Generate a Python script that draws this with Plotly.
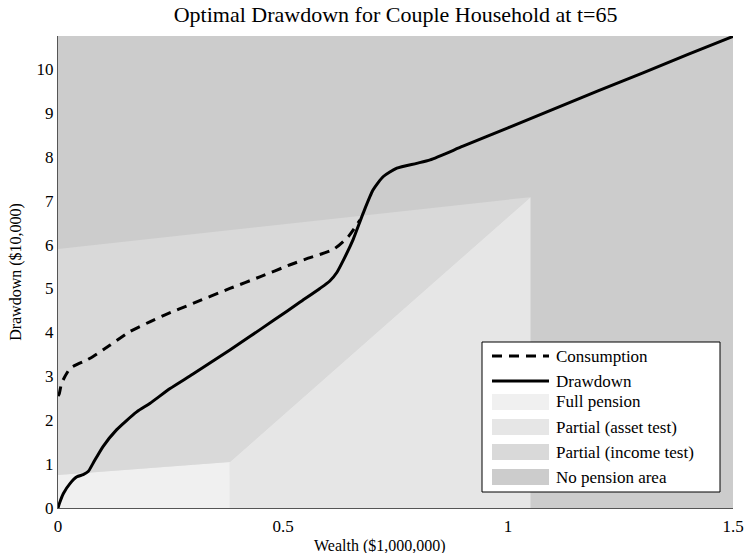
import plotly.graph_objects as go

# Optimal drawdown path (wealth in $1,000,000, drawdown in $10,000)
wealth_d = [0, 0.003, 0.012, 0.027, 0.042, 0.056, 0.067, 0.078, 0.10, 0.13, 0.175, 0.204,
            0.249, 0.30, 0.382, 0.427, 0.48, 0.538, 0.582, 0.604, 0.62, 0.634, 0.656, 0.678,
            0.70, 0.723, 0.753, 0.797, 0.827, 0.9, 1.0, 1.1, 1.2, 1.3, 1.4, 1.5]
drawdown = [0, 0.10, 0.33, 0.56, 0.71, 0.76, 0.83, 1.02, 1.40, 1.78, 2.19, 2.38,
            2.72, 3.05, 3.60, 3.91, 4.28, 4.69, 5.00, 5.17, 5.37, 5.64, 6.12, 6.71,
            7.24, 7.55, 7.74, 7.85, 7.93, 8.24, 8.66, 9.08, 9.50, 9.91, 10.33, 10.74]

# Optimal consumption path (joins drawdown once the pension is exhausted)
wealth_c = [0, 0.003, 0.008, 0.027, 0.064, 0.078, 0.116, 0.16, 0.204, 0.238, 0.30,
            0.382, 0.45, 0.516, 0.556, 0.612, 0.645, 0.671]
consumption = [2.55, 2.61, 2.84, 3.18, 3.37, 3.45, 3.71, 4.02, 4.24, 4.40, 4.66,
               5.00, 5.27, 5.54, 5.69, 5.89, 6.18, 6.56]

# Pension regime boundaries
full_pension_w = [0, 0, 0.382, 0.382]
full_pension_d = [0, 0.75, 1.05, 0]
asset_test_w = [0.382, 0.382, 1.05, 1.05]
asset_test_d = [0, 1.05, 7.08, 0]
income_test_w = [0, 0, 1.05, 0.382]
income_test_d = [0.75, 5.9, 7.08, 1.05]
no_pension_w = [0, 1.5, 1.5, 0]
no_pension_d = [0, 0, 10.75, 10.75]

x_ticks = [0, 0.5, 1, 1.5]
x_tick_labels = ["0", "0.5", "1", "1.5"]
y_ticks = list(range(0, 11))

SERIF = "Liberation Serif, Times New Roman, serif"
W, H = 745, 553
M_L, M_R, M_T, M_B = 58, 12, 36, 45
PW, PH = W - M_L - M_R, H - M_T - M_B

DASH = "10px,7px"

fig = go.Figure()

regions = [
    ("No pension area", no_pension_w, no_pension_d, "#cccccc"),
    ("Partial (income test)", income_test_w, income_test_d, "#d9d9d9"),
    ("Partial (asset test)", asset_test_w, asset_test_d, "#e6e6e6"),
    ("Full pension", full_pension_w, full_pension_d, "#f0f0f0"),
]
for name, xs, ys, col in regions:
    fig.add_trace(go.Scatter(
        x=xs, y=ys, mode="lines", fill="toself", fillcolor=col,
        line=dict(width=0, color=col), name=name, showlegend=False, hoverinfo="skip",
    ))

fig.add_trace(go.Scatter(
    x=wealth_c, y=consumption, mode="lines", name="Consumption", showlegend=False,
    line=dict(color="black", width=3, dash=DASH, shape="spline", smoothing=0.6),
))
fig.add_trace(go.Scatter(
    x=wealth_d, y=drawdown, mode="lines", name="Drawdown", showlegend=False,
    line=dict(color="black", width=3, shape="spline", smoothing=0.6),
))


# Legend box (pixel layout converted to paper coordinates)
def px(x):
    return (x - M_L) / PW


def py(y):
    return (H - M_B - y) / PH


shapes = [dict(type="rect", xref="paper", yref="paper", layer="above",
               x0=px(482), x1=px(720), y0=py(492), y1=py(342),
               fillcolor="white", line=dict(color="black", width=1))]
annotations = []

legend_rows = [
    ("Consumption", "line", "black", DASH),
    ("Drawdown", "line", "black", "solid"),
    ("Full pension", "patch", "#f0f0f0", None),
    ("Partial (asset test)", "patch", "#e6e6e6", None),
    ("Partial (income test)", "patch", "#d9d9d9", None),
    ("No pension area", "patch", "#cccccc", None),
]
row_y = [356, 381, 402, 427, 452, 477]
for (label, kind, col, dash), yc in zip(legend_rows, row_y):
    if kind == "line":
        shapes.append(dict(type="line", xref="paper", yref="paper", layer="above",
                           x0=px(492), x1=px(549), y0=py(yc), y1=py(yc),
                           line=dict(color=col, width=3, dash=dash)))
    else:
        shapes.append(dict(type="rect", xref="paper", yref="paper", layer="above",
                           x0=px(492), x1=px(549), y0=py(yc + 8), y1=py(yc - 8),
                           fillcolor=col, line=dict(width=0)))
    annotations.append(dict(text=label, xref="paper", yref="paper",
                            x=px(554), y=py(yc), xanchor="left", yanchor="middle",
                            showarrow=False, font=dict(family=SERIF, size=17)))

annotations.append(dict(text="Wealth ($1,000,000)", xref="paper", yref="paper",
                        x=px(380), y=py(546), xanchor="center", yanchor="middle",
                        showarrow=False, font=dict(family=SERIF, size=16)))

fig.update_layout(
    width=W, height=H,
    margin=dict(l=M_L, r=M_R, t=M_T, b=M_B, autoexpand=False),
    paper_bgcolor="white", plot_bgcolor="#cccccc",
    font=dict(family=SERIF, size=16, color="black"),
    title=dict(text="Optimal Drawdown for Couple Household at t=65",
               x=0.531, xanchor="center", y=1 - 14 / H, yanchor="middle",
               font=dict(family=SERIF, size=22)),
    showlegend=False,
    shapes=shapes,
    annotations=annotations,
    xaxis=dict(
        range=[0, 1.5], tickvals=x_ticks, ticktext=x_tick_labels, automargin=False,
        showgrid=False, zeroline=False, showline=True, linecolor="#555555", linewidth=1,
        ticks="", ticklen=0, ticklabelstandoff=3,
        tickfont=dict(family=SERIF, size=17),
    ),
    yaxis=dict(
        range=[0, 10.75], tickvals=y_ticks, automargin=False,
        showgrid=False, zeroline=False, showline=True, linecolor="#555555", linewidth=1,
        ticks="", ticklen=0,
        title=dict(text="Drawdown ($10,000)", font=dict(family=SERIF, size=16), standoff=10),
        tickfont=dict(family=SERIF, size=17),
    ),
)

fig.write_html("out.html")
